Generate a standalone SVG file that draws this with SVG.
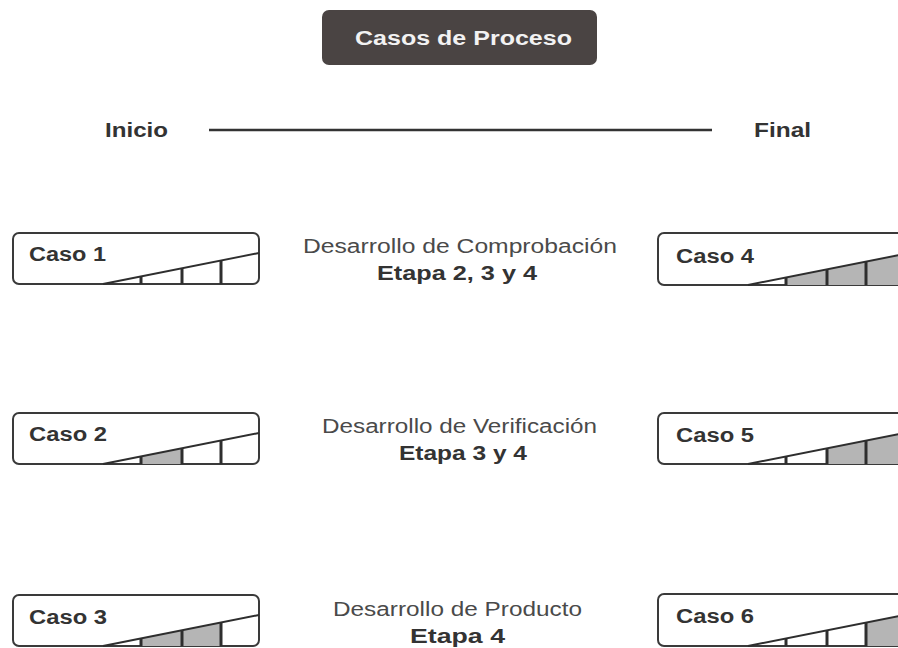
<svg xmlns="http://www.w3.org/2000/svg" xmlns:xlink="http://www.w3.org/1999/xlink" width="898" height="648" viewBox="0 0 898 648">
<style>
text { font-family: "Liberation Sans", Arial, sans-serif; }
.title { font-size: 20px; font-weight: bold; fill: #f2f2f2; }
.lbl { font-size: 20px; font-weight: bold; fill: #333333; }
.desc { font-size: 20px; fill: #4a4a4a; }
.etapa { font-size: 20px; font-weight: bold; fill: #333333; }
.box { fill: #ffffff; stroke: #3a3a3a; stroke-width: 2; }
.gray { fill: #b5b5b5; }
.rline { stroke: #2e2e2e; stroke-width: 2; fill: none; }
.rdiv { stroke: #2e2e2e; stroke-width: 3; fill: none; }
</style>
<defs>
  <polygon id="s1" points="38,0 38,-7.55 79,-15.7 79,0"/>
  <polygon id="s2" points="79,0 79,-15.7 118,-23.45 118,0"/>
  <polygon id="s3" points="118,0 118,-23.45 156,-31 156,0"/>
  <g id="ramp">
    <line class="rline" x1="0" y1="0" x2="156" y2="-31"/>
    <line class="rdiv" x1="38" y1="0" x2="38" y2="-7.55"/>
    <line class="rdiv" x1="79" y1="0" x2="79" y2="-15.7"/>
    <line class="rdiv" x1="118" y1="0" x2="118" y2="-23.45"/>
  </g>
</defs>
<rect width="898" height="648" fill="#ffffff"/>

<g id="title">
  <rect x="322" y="10" width="275" height="55" rx="7" fill="#4a4443"/>
  <text class="title" x="355" y="45" textLength="217" lengthAdjust="spacingAndGlyphs">Casos de Proceso</text>
</g>

<g id="inicio">
  <text class="lbl" x="105" y="137" textLength="63" lengthAdjust="spacingAndGlyphs">Inicio</text>
</g>
<g id="final">
  <text class="lbl" x="754" y="137" textLength="57" lengthAdjust="spacingAndGlyphs">Final</text>
</g>

<g id="connectors">
  <line x1="209" y1="130" x2="712" y2="130" stroke="#333333" stroke-width="2.5"/>
</g>

<g id="caso1">
  <rect class="box" x="13" y="233" width="246" height="51" rx="6"/>
  <use xlink:href="#ramp" transform="translate(103,284)"/>
  <text class="lbl" x="29" y="261" textLength="77" lengthAdjust="spacingAndGlyphs">Caso 1</text>
</g>
<g id="caso2">
  <rect class="box" x="13" y="413" width="246" height="51" rx="6"/>
  <use xlink:href="#s1" class="gray" transform="translate(103,464)"/>
  <use xlink:href="#ramp" transform="translate(103,464)"/>
  <text class="lbl" x="29" y="441" textLength="78" lengthAdjust="spacingAndGlyphs">Caso 2</text>
</g>
<g id="caso3">
  <rect class="box" x="13" y="595" width="246" height="51" rx="6"/>
  <use xlink:href="#s1" class="gray" transform="translate(103,646)"/>
  <use xlink:href="#s2" class="gray" transform="translate(103,646)"/>
  <use xlink:href="#ramp" transform="translate(103,646)"/>
  <text class="lbl" x="29" y="624" textLength="78" lengthAdjust="spacingAndGlyphs">Caso 3</text>
</g>

<g id="caso4">
  <rect class="box" x="658" y="233" width="246" height="52" rx="6"/>
  <use xlink:href="#s1" class="gray" transform="translate(748,285)"/>
  <use xlink:href="#s2" class="gray" transform="translate(748,285)"/>
  <use xlink:href="#s3" class="gray" transform="translate(748,285)"/>
  <use xlink:href="#ramp" transform="translate(748,285)"/>
  <text class="lbl" x="676" y="263" textLength="78" lengthAdjust="spacingAndGlyphs">Caso 4</text>
</g>
<g id="caso5">
  <rect class="box" x="658" y="413" width="246" height="51" rx="6"/>
  <use xlink:href="#s2" class="gray" transform="translate(748,464)"/>
  <use xlink:href="#s3" class="gray" transform="translate(748,464)"/>
  <use xlink:href="#ramp" transform="translate(748,464)"/>
  <text class="lbl" x="676" y="442" textLength="78" lengthAdjust="spacingAndGlyphs">Caso 5</text>
</g>
<g id="caso6">
  <rect class="box" x="658" y="594" width="246" height="52" rx="6"/>
  <use xlink:href="#s3" class="gray" transform="translate(748,646)"/>
  <use xlink:href="#ramp" transform="translate(748,646)"/>
  <text class="lbl" x="676" y="623" textLength="78" lengthAdjust="spacingAndGlyphs">Caso 6</text>
</g>

<g id="comprobacion">
  <text class="desc" x="303" y="253" textLength="314" lengthAdjust="spacingAndGlyphs">Desarrollo de Comprobación</text>
  <text class="etapa" x="377" y="280" textLength="160" lengthAdjust="spacingAndGlyphs">Etapa 2, 3 y 4</text>
</g>
<g id="verificacion">
  <text class="desc" x="322" y="433" textLength="275" lengthAdjust="spacingAndGlyphs">Desarrollo de Verificación</text>
  <text class="etapa" x="399" y="460" textLength="128" lengthAdjust="spacingAndGlyphs">Etapa 3 y 4</text>
</g>
<g id="producto">
  <text class="desc" x="333" y="616" textLength="249" lengthAdjust="spacingAndGlyphs">Desarrollo de Producto</text>
  <text class="etapa" x="410" y="643" textLength="95" lengthAdjust="spacingAndGlyphs">Etapa 4</text>
</g>
</svg>
